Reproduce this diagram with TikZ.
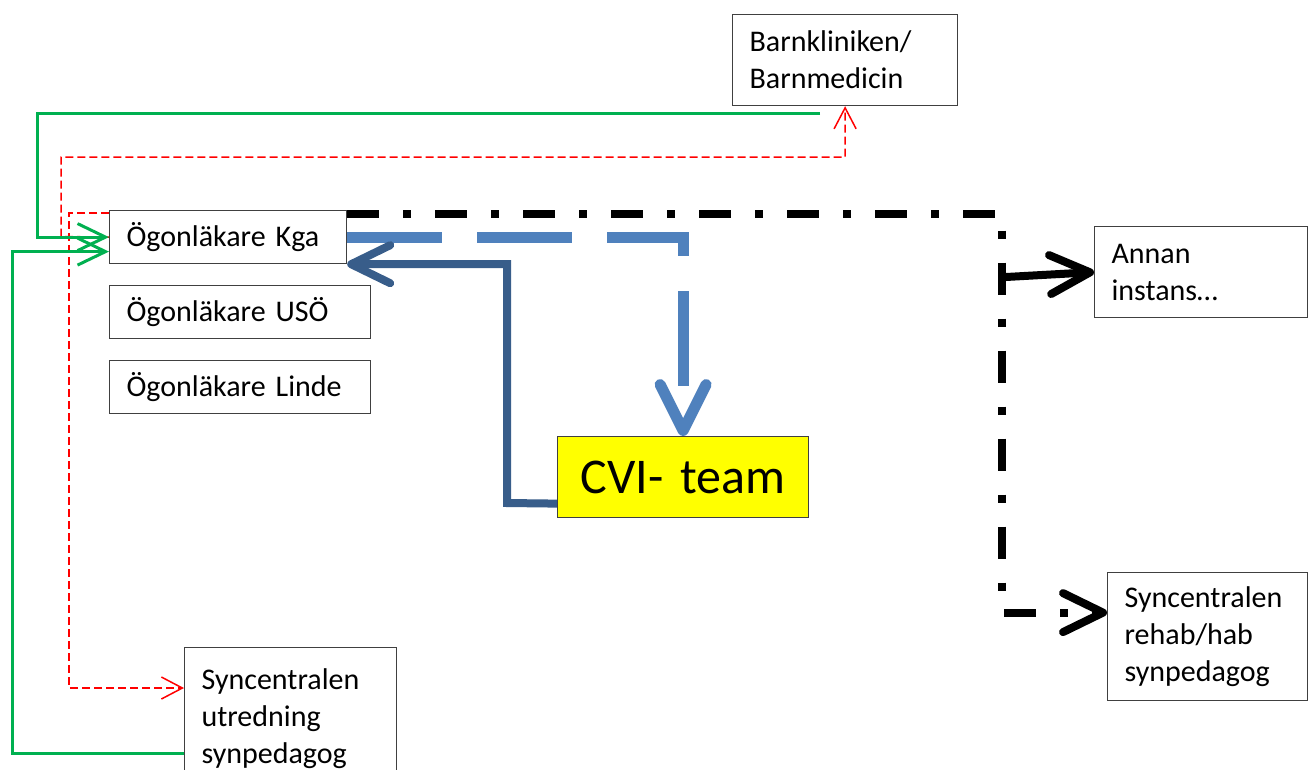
\documentclass[tikz,border=0pt]{standalone}
\usepackage{fontspec}
\setmainfont{Carlito}
\usetikzlibrary{arrows.meta}
\definecolor{cgreen}{HTML}{00B050}
\definecolor{cred}{HTML}{FF0000}
\definecolor{cblue}{HTML}{4F81BD}
\definecolor{cdblue}{HTML}{385D8A}
\definecolor{cyellow}{HTML}{FFFF00}
\definecolor{boxgray}{HTML}{404040}
\newcommand\bodyfont{\fontsize{30}{37}\selectfont}
\newcommand\bigfont{\fontsize{50}{58}\selectfont}
\tikzset{
  boxnode/.style={draw=boxgray, line width=1.2pt, fill=white, anchor=north west,
    inner xsep=17pt, inner ysep=0pt, align=left, font=\bodyfont},
  redline/.style={draw=cred, line width=1.5pt, dash pattern=on 8pt off 4pt,
    -{Straight Barb[length=21pt,width=22pt]}},
  greenline/.style={draw=cgreen, line width=3pt,
    -{Straight Barb[length=28pt,width=27pt]}},
  blueline/.style={draw=cblue, line width=11pt, dash pattern=on 95pt off 35pt,
    -{Straight Barb[length=46pt,width=46pt,round]}},
  dblueline/.style={draw=cdblue, line width=8pt,
    -{Straight Barb[length=39pt,width=38pt,round]}},
  blackdd/.style={draw=black, line width=8pt, dash pattern=on 32pt off 24pt on 8pt off 24pt,
    -{Straight Barb[length=40pt,width=39pt,round]}},
  blacksolid/.style={draw=black, line width=8pt,
    -{Straight Barb[length=40pt,width=39pt,round]}},
}
\begin{document}
\begin{tikzpicture}[x=1pt,y=-1pt]
\fill[white] (0,0) rectangle (1308,769);
\useasboundingbox (0,0) rectangle (1308,769);

% boxes
\node[boxnode, text width=191pt, minimum height=91pt] (barn) at (732,14) {Barnkliniken/\\Barnmedicin};
\node[boxnode, text width=203pt, minimum height=53pt] (kga) at (109,210) {Ögonläkare Kga};
\node[boxnode, text width=227pt, minimum height=53pt] (uso) at (109,285) {Ögonläkare USÖ};
\node[boxnode, text width=227pt, minimum height=53pt] (linde) at (109,360) {Ögonläkare Linde};
\node[boxnode, fill=cyellow, inner xsep=0pt, align=center, text width=251pt, minimum height=81pt, font=\bigfont] (cvi) at (557,436) {CVI- team};
\node[boxnode, text width=179pt, minimum height=91pt] (annan) at (1094,226) {Annan\\instans…};
\node[boxnode, text width=166pt, minimum height=128pt] (rehab) at (1107,572) {Syncentralen\\rehab/hab\\synpedagog};
\node[boxnode, text width=178pt, minimum height=143pt] (utred) at (184,647) {Syncentralen\\utredning\\synpedagog};

% helper coordinates
\coordinate (g1) at (820,113);
\coordinate (br) at (1006,277);

% red dashed connectors
\draw[redline] (kga.west) -- (61,236.5) -- (61,157) -| (barn.south);
\draw[redline] ([yshift=-3pt]kga.north west) -- (69,213) |- ([yshift=-41pt]utred.north west);

% green connectors
\draw[greenline] (g1) -- (37,113) |- (kga.west);
\draw[greenline] ([yshift=-106pt]utred.north west) -- (12,753) |- ([yshift=-14.5pt]kga.west);

% blue connectors
\draw[blueline] (kga.east) -| (cvi.north);
\draw[dblueline] ([yshift=-26.5pt]cvi.west) -- (507,503) |- (kga.south east);

% black connectors
\draw[blackdd] ([yshift=-3.5pt]kga.north east) -- (1002,213.5) |- ([yshift=24pt]rehab.west);
\draw[blacksolid] (br) -- (annan.west);
\end{tikzpicture}
\end{document}
